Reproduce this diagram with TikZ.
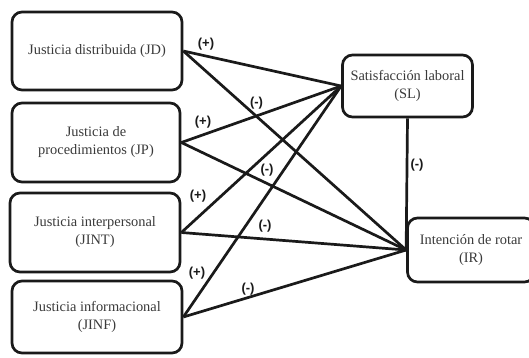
\documentclass[tikz,border=0pt]{standalone}
\usepackage{fontspec}
\setmainfont{Liberation Serif}
\newfontfamily\labelfont{Liberation Sans}
\definecolor{ink}{HTML}{1A1A1A}
\definecolor{txt}{HTML}{3A3A3A}
\tikzset{
  factor/.style={draw=ink, line width=2.7pt, rounded corners=10pt, rectangle,
    inner sep=0pt, align=center, text=txt,
    font=\fontsize{14.4}{18}\selectfont},
  link/.style={draw=ink, line width=2.7pt},
  sign/.style={font=\labelfont\bfseries\fontsize{13}{13}\selectfont, text=ink, inner sep=0pt}
}
\begin{document}
\begin{tikzpicture}[x=1pt,y=-1pt]
  \clip (0,0) rectangle (529,357);
  \fill[white] (0,0) rectangle (529,357);

  % predictors
  \node[factor, minimum width=170pt, minimum height=78pt] (jd) at (97,51) {Justicia distribuida (JD)};
  \node[factor, minimum width=168pt, minimum height=79pt] (jp) at (96,142.5) {Justicia de\\procedimientos (JP)};
  \node[factor, minimum width=170pt, minimum height=79pt] (jint) at (95,232.5) {Justicia interpersonal\\(JINT)};
  \node[factor, minimum width=170pt, minimum height=72pt] (jinf) at (97,317) {Justicia informacional\\(JINF)};

  % mediator and outcome
  \node[factor, minimum width=130pt, minimum height=62pt] (sl) at (407.5,86) {Satisfacción laboral\\(SL)};
  \node[factor, minimum width=127pt, minimum height=64pt] (ir) at (471,250) {Intención de rotar\\(IR)};

  % paths
  \draw[link] (jd.east) -- (sl.west);
  \draw[link] (jd.east) -- (ir.west);
  \draw[link] (jp.east) -- (sl.west);
  \draw[link] (jp.east) -- (ir.west);
  \draw[link] (jint.east) -- (sl.west);
  \draw[link] (jint.east) -- (ir.west);
  \draw[link] (jinf.east) -- (sl.west);
  \draw[link] (jinf.east) -- (ir.west);
  \draw[link] (sl.south) -- (ir.west);

  % signs of the effects
  \node[sign] (s1) at (206,44) {(+)};
  \node[sign] (s2) at (256.5,103.5) {(-)};
  \node[sign] (s3) at (203,122.5) {(+)};
  \node[sign] (s4) at (267,170) {(-)};
  \node[sign] (s5) at (198,196.5) {(+)};
  \node[sign] (s6) at (265,226) {(-)};
  \node[sign] (s7) at (197,273) {(+)};
  \node[sign] (s8) at (248,289) {(-)};
  \node[sign] (s9) at (417,165) {(-)};
\end{tikzpicture}
\end{document}
